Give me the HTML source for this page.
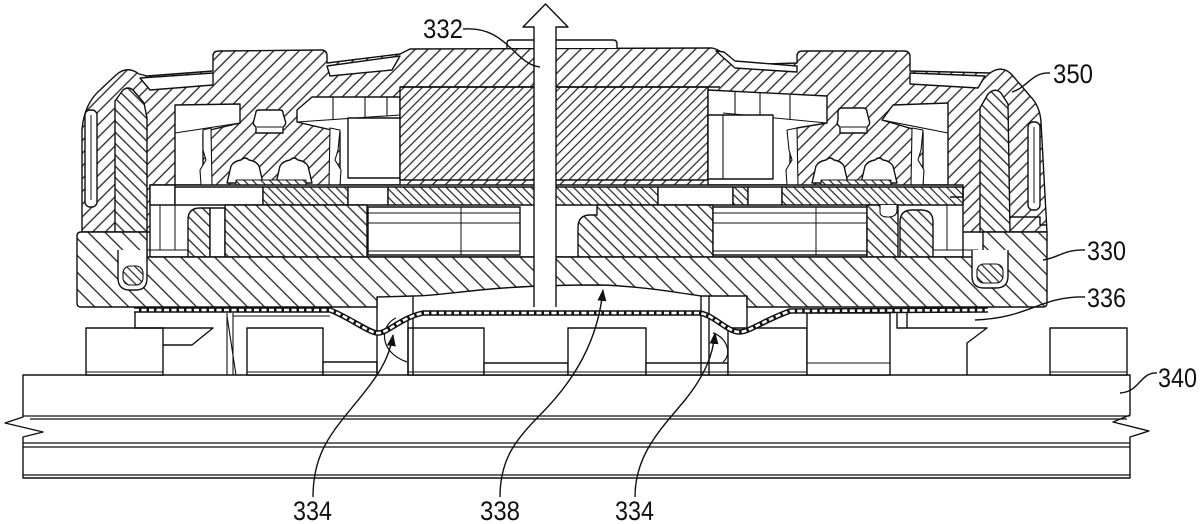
<!DOCTYPE html>
<html><head><meta charset="utf-8"><style>
html,body{margin:0;padding:0;background:#fff;}
svg{display:block;}
text{font-family:"Liberation Sans",Arial,sans-serif;font-size:27px;fill:#111;}
</style></head><body>
<svg width="1200" height="524" viewBox="0 0 1200 524" xmlns="http://www.w3.org/2000/svg">
<defs>
<pattern id="hc" patternUnits="userSpaceOnUse" width="9" height="9" patternTransform="rotate(45)"><rect width="9" height="9" fill="#fff"/><line x1="4.5" y1="0" x2="4.5" y2="9" stroke="#222" stroke-width="1.3"/></pattern>
<pattern id="hm" patternUnits="userSpaceOnUse" width="6.5" height="6.5" patternTransform="rotate(45)"><rect width="6.5" height="6.5" fill="#fff"/><line x1="3" y1="0" x2="3" y2="6.5" stroke="#222" stroke-width="1.2"/></pattern>
<pattern id="hb" patternUnits="userSpaceOnUse" width="12" height="12" patternTransform="rotate(-45)"><rect width="12" height="12" fill="#fff"/><line x1="6" y1="0" x2="6" y2="12" stroke="#222" stroke-width="1.3"/></pattern>
<pattern id="hp" patternUnits="userSpaceOnUse" width="6" height="6" patternTransform="rotate(-45)"><rect width="6" height="6" fill="#fff"/><line x1="3" y1="0" x2="3" y2="6" stroke="#222" stroke-width="1.2"/></pattern>
<pattern id="hs" patternUnits="userSpaceOnUse" width="8" height="8" patternTransform="rotate(-45)"><rect width="8" height="8" fill="#fff"/><line x1="4" y1="0" x2="4" y2="8" stroke="#222" stroke-width="1.3"/></pattern>
<marker id="ah" markerWidth="12" markerHeight="9" refX="11" refY="4.5" orient="auto" markerUnits="userSpaceOnUse"><path d="M0,0 L12,4.5 L0,9 Z" fill="#111"/></marker>
</defs>

<g stroke="#111" stroke-width="1.4" stroke-linejoin="round">
<!-- base 340 -->
<path d="M23,375 L1130,375 L1130,415 L1113,422 L1149,431 L1130,437 L1130,478 L23,478 L23,437 L43,432 L5,423 L23,417 Z" fill="#fff"/>
<path d="M23,416 H1130 M30,419 H1127 M23,443 H1130 M23,447 H1130 M23,475 H1130" fill="none" stroke-width="1.2"/>

<!-- blocks between plate and base -->
<g fill="#fff">
<rect x="86" y="328" width="77" height="47"/>
<rect x="247" y="328" width="76" height="47"/>
<rect x="323" y="362" width="54" height="13"/>
<rect x="408" y="328" width="76" height="47"/>
<rect x="484" y="363" width="84" height="12"/>
<rect x="568" y="328" width="78" height="47"/>
<rect x="646" y="363" width="82" height="12"/>
<rect x="728" y="328" width="79" height="47"/>
<rect x="807" y="313" width="83" height="62"/>
<rect x="1050" y="328" width="77" height="47"/>
</g>
<path d="M86,372 H163 M247,372 H323 M408,372 H484 M568,372 H646 M728,372 H807 M807,363 H890 M1050,372 H1127 M323,372 H377 M484,372 H568 M646,372 H728" fill="none" stroke-width="1"/>
<path d="M135,312 L135,328 L213,328 L192,345 L163,345" fill="none"/>
<path d="M227,313 L227,375 M233,313 L233,375 M227,316 L236,375 M233,316 H330" fill="none" stroke-width="1.1"/>
<path d="M377,297 L377,375 M413,296 L413,375 M408,318 L408,375" fill="none"/>
<path d="M701,296 L701,375 M709,296 L709,375 M747,296 L747,328" fill="none"/>
<path d="M897,313 L897,328 L987,328 L967,343 L967,375 M907,313 L907,328" fill="none"/>
<path d="M396,318 C380,325 378,352 407,362" fill="none" stroke-width="1.2"/>
<path d="M713,333 C728,338 732,355 723,362" fill="none" stroke-width="1.2"/>

<!-- upper assembly -->
<path d="M82,232 L82,130 Q84,104 100,90 L116,75 Q127,65 139,74 L147,76 L213,71 L213,56 Q213,51 219,51 L321,50 Q327,50 327,56 L327,63 L400,54 L410,49 L712,48 Q722,50 728,60 L735,65 L797,63 L797,56 Q797,51 803,51 L904,51 Q910,51 910,57 L910,71 L990,73 Q1003,64 1013,76 L1030,96 Q1040,106 1041,122 L1047,232 Z" fill="url(#hc)"/>

<path d="M140,78 L213,73 L213,85 L150,90 Z" fill="#fff"/>
<path d="M327,66 L400,56 L392,70 L330,76 Z" fill="#fff"/>
<path d="M716,51 L735,68 L797,72 L797,66 L735,61 L724,52 Z" fill="#fff"/>
<path d="M910,73 L985,76 L978,88 L910,84 Z" fill="#fff"/>

<path d="M507,48 L507,43 Q507,40 511,40 L613,40 Q617,40 617,44 L617,48" fill="#fff"/>

<!-- left chamber -->
<path d="M175,105 L240,104 L240,123 L210,130 L203,133 L203,185 L175,185 Z" fill="#fff"/>
<path d="M175,133 L240,123" fill="none" stroke-width="1.1"/>
<path d="M297,122 L297,110 L312,97 L400,97 L400,185 L340,185 L340,132 Z" fill="#fff"/>
<path d="M297,122 L400,115 M333,97 V119 M365,97 V117 M387,97 V116" fill="none" stroke-width="1.1"/>
<rect x="348" y="118" width="52" height="60" fill="#fff"/>
<path d="M256,112 Q256,110 259,110 L280,110 Q283,110 283,113 L285,120 Q287,124 283,127 L283,133 L256,133 L256,127 Q252,124 254,120 Z" fill="#fff"/>
<path d="M257,127 H282" fill="none" stroke-width="1"/>
<path d="M203,130 L211,128 L212,185 L201,185 L200,170 L206,160 L203,150 Z" fill="#fff" stroke-width="1.1"/>
<path d="M340,130 L330,128 L329,185 L340,185 L341,170 L335,160 L338,150 Z" fill="#fff" stroke-width="1.1"/>
<path d="M227,183 L231,166 Q234,161 241,160 Q245,156 249,160 Q256,161 259,166 L263,183 Z" fill="#fff"/>
<path d="M276,183 L280,166 Q283,161 290,160 Q294,156 298,160 Q305,161 308,166 L312,183 Z" fill="#fff"/>
<rect x="236" y="180" width="70" height="5" fill="url(#hp)" stroke-width="1"/>

<!-- magnet -->
<rect x="400" y="87" width="308" height="93" fill="url(#hm)"/>
<path d="M400,87 H720" fill="none"/>

<!-- right chamber -->
<path d="M708,90 L827,96 L827,123 L797,128 L790,132 L790,185 L708,185 Z" fill="#fff"/>
<path d="M723,113 L827,123 M735,92 V114 M760,93 V117 M790,95 V120" fill="none" stroke-width="1.1"/>
<rect x="708" y="115" width="65" height="64" fill="#fff"/>
<path d="M723,115 V179" fill="none" stroke-width="1.1"/>
<path d="M882,120 L893,105 L948,103 L948,185 L923,185 L923,132 Z" fill="#fff"/>
<path d="M882,120 L948,133" fill="none" stroke-width="1.1"/>
<path d="M838,112 Q838,108 842,108 L863,108 Q867,108 867,112 L869,120 Q871,124 867,127 L867,133 L840,133 L840,127 Q836,124 838,120 Z" fill="#fff"/>
<path d="M841,127 H866" fill="none" stroke-width="1"/>
<path d="M787,130 L797,128 L798,185 L787,185 L786,170 L792,160 L789,150 Z" fill="#fff" stroke-width="1.1"/>
<path d="M923,130 L912,128 L911,185 L923,185 L924,170 L918,160 L921,150 Z" fill="#fff" stroke-width="1.1"/>
<path d="M812,183 L816,166 Q819,161 826,160 Q830,156 834,160 Q841,161 844,166 L848,183 Z" fill="#fff"/>
<path d="M861,183 L865,166 Q868,161 875,160 Q879,156 883,160 Q890,161 893,166 L897,183 Z" fill="#fff"/>
<rect x="821" y="180" width="70" height="5" fill="url(#hp)" stroke-width="1"/>

<!-- lower inner region -->
<rect x="150" y="185" width="813" height="72" fill="#fff"/>
<path d="M400,180 H708 M400,185 H963" fill="none" stroke-width="1.1"/>
<rect x="150" y="185" width="25" height="20" fill="#fff"/>
<rect x="175" y="187" width="88" height="18" fill="#fff"/>
<rect x="263" y="187" width="85" height="18" fill="url(#hp)"/>
<rect x="348" y="187" width="40" height="18" fill="#fff"/>
<rect x="388" y="187" width="270" height="18" fill="url(#hp)"/>
<rect x="658" y="187" width="75" height="18" fill="#fff"/>
<rect x="733" y="187" width="15" height="18" fill="url(#hp)"/>
<rect x="748" y="187" width="34" height="18" fill="#fff"/>
<rect x="782" y="187" width="181" height="18" fill="url(#hp)"/>
<path d="M963,187 L963,197 L950,197" fill="none"/>

<path d="M147,250 H188 M160,205 V250 M175,205 V250" fill="none" stroke-width="1"/>
<path d="M188,257 L188,220 Q188,208 200,208 L210,208 L210,257 Z" fill="url(#hs)"/>
<rect x="210" y="208" width="15" height="49" fill="#fff"/>
<rect x="225" y="205" width="142" height="52" fill="url(#hs)"/>
<rect x="368" y="207" width="152" height="48" fill="#fff"/>
<path d="M368,213 H520 M368,223 H520 M368,251 H520 M461,207 V255" fill="none" stroke-width="1"/>
<path d="M597,205 L713,205 L713,257 L578,257 L578,226 Q579,215 590,215 L597,215 Z" fill="url(#hs)"/>
<rect x="713" y="207" width="154" height="48" fill="#fff"/>
<path d="M713,213 H867 M713,223 H867 M713,251 H867 M816,207 V255" fill="none" stroke-width="1"/>
<rect x="867" y="205" width="31" height="52" fill="url(#hs)"/>
<path d="M880,205 L880,212 Q880,217 888,217 Q897,217 897,210 L897,205" fill="#fff" stroke-width="1.1"/>
<path d="M900,257 L900,222 Q900,210 912,210 L921,210 Q933,210 933,222 L933,257 Z" fill="url(#hs)"/>
<path d="M947,205 V250 M933,250 H978" fill="none" stroke-width="1"/>

<!-- shells -->
<path d="M115,232 L115,101 L123,90 Q128,86 133,90 L144,103 L147,118 L147,232 Z" fill="url(#hs)"/>
<path d="M980,232 L980,108 L988,94 Q995,87 1001,93 L1008,104 L1010,232 Z" fill="url(#hs)"/>
<rect x="85" y="110" width="12" height="97" rx="5" fill="#fff"/>
<path d="M91,115 V200" fill="none" stroke-width="1"/>
<rect x="1028" y="122" width="12" height="88" rx="5" fill="#fff"/>
<path d="M1034,127 V203" fill="none" stroke-width="1"/>
<path d="M1010,217 L1040,217 L1040,225 L1047,225" fill="none"/>

<!-- lower body 330 -->
<path d="M77,236 Q77,232 81,232 L147,232 L147,257 L983,257 L983,232 L1047,232 L1047,303 Q1047,307 1043,307 L747,307 L747,296 L701,296 C680,293 640,286 600,285 C560,285 520,286 480,290 C450,293 430,296 413,296 L377,297 L377,307 L81,307 Q77,307 77,303 Z" fill="url(#hb)"/>
<path d="M118,250 L118,278 Q118,290 130,290 L136,290 Q147,290 147,278 L147,250" fill="#fff"/>
<rect x="123" y="266" width="20" height="19" rx="7" fill="url(#hp)" stroke-width="1.1"/>
<path d="M972,250 L972,276 Q972,288 984,288 L996,288 Q1008,288 1008,276 L1008,250" fill="#fff"/>
<rect x="977" y="264" width="26" height="19" rx="7" fill="url(#hp)" stroke-width="1.1"/>

<!-- plate 336 -->
<path d="M134,310 L330,310 C350,318 368,332 377,333 C387,334 400,318 423,313 L700,313 C715,316 725,330 738,332 C748,333 760,322 790,311 L988,310" fill="none" stroke="#111" stroke-width="5.5" stroke-linejoin="round"/>
<path d="M134,310 L330,310 C350,318 368,332 377,333 C387,334 400,318 423,313 L700,313 C715,316 725,330 738,332 C748,333 760,322 790,311 L988,310" fill="none" stroke="#fff" stroke-width="2.6" stroke-dasharray="5 2.5"/>

<!-- big arrow -->
<path d="M534,307 L534,27 L523,27 L545.5,4 L568,27 L556,27 L556,307 Z" fill="#fff" stroke="none"/>
<path d="M534,307 L534,27 L523,27 L545.5,4 L568,27 L556,27 L556,307" fill="none"/>
</g>

<g fill="none" stroke="#111" stroke-width="1.4">
<path d="M463,29 C490,27 502,40 515,52 C525,62 532,66 540,67"/>
<path d="M1050,73 C1032,72 1028,87 1012,92"/>
<path d="M1085,250 C1065,249 1058,258 1043,260"/>
<path d="M1085,297 C1040,296 1030,318 975,320"/>
<path d="M1157,373 C1140,372 1140,392 1120,393"/>
<path d="M313,497 C313,455 330,435 350,410 C375,380 389,362 393,335" marker-end="url(#ah)"/>
<path d="M500,497 C500,460 515,440 540,415 C575,380 598,340 603,290" marker-end="url(#ah)"/>
<path d="M635,497 C635,455 660,430 685,400 C705,375 713,355 715,333" marker-end="url(#ah)"/>
</g>

<text x="423" y="38" textLength="40" lengthAdjust="spacingAndGlyphs">332</text>
<text x="1053" y="83" textLength="40" lengthAdjust="spacingAndGlyphs">350</text>
<text x="1087" y="260" textLength="39" lengthAdjust="spacingAndGlyphs">330</text>
<text x="1087" y="307" textLength="39" lengthAdjust="spacingAndGlyphs">336</text>
<text x="1158" y="387" textLength="39" lengthAdjust="spacingAndGlyphs">340</text>
<text x="293" y="520" textLength="39" lengthAdjust="spacingAndGlyphs">334</text>
<text x="480" y="520" textLength="40" lengthAdjust="spacingAndGlyphs">338</text>
<text x="615" y="520" textLength="39" lengthAdjust="spacingAndGlyphs">334</text>
</svg>
</body></html>
